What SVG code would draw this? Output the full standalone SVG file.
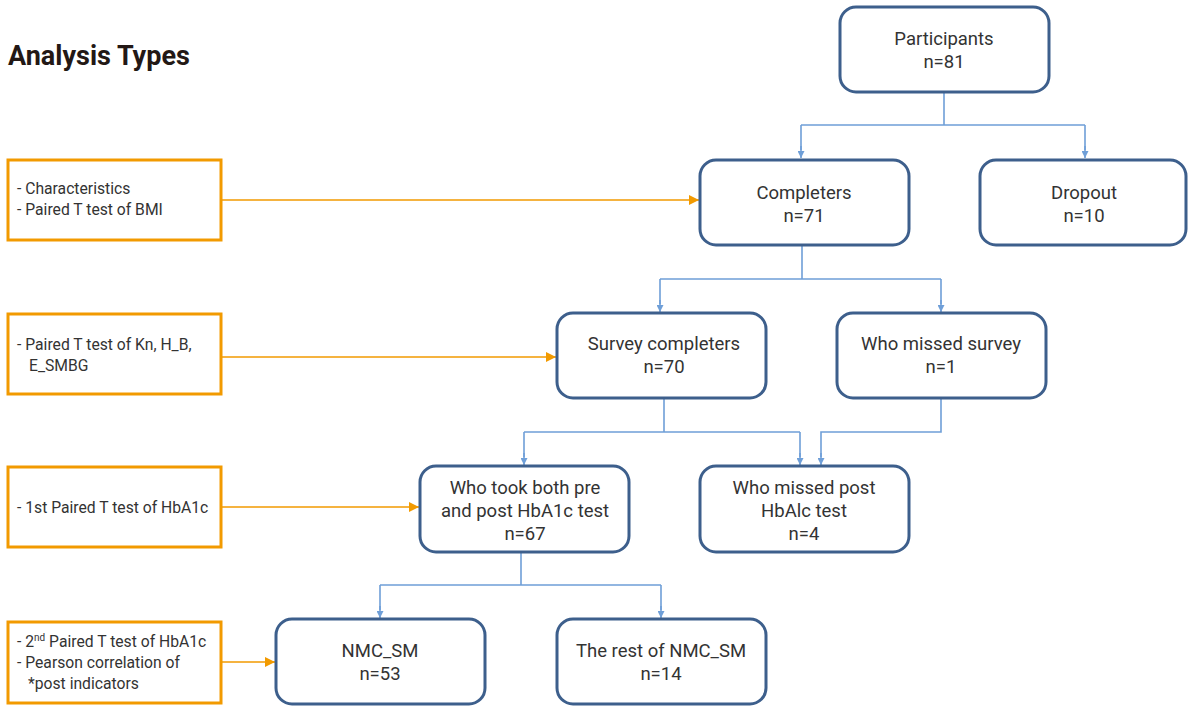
<svg xmlns="http://www.w3.org/2000/svg" width="1188" height="707" viewBox="0 0 1188 707">
<defs>
<style>
.node{fill:#fff;stroke:#3d5f8c;stroke-width:3}
.ana{fill:#fff;stroke:#f29a00;stroke-width:3}
.t{font-family:Roboto,"Liberation Sans",sans-serif;font-size:18.5px;fill:#333;text-anchor:middle}
.a{font-family:Roboto,"Liberation Sans",sans-serif;font-size:15.7px;fill:#333}
.blue{fill:none;stroke:#6f9fd8;stroke-width:1.6}
.org{fill:none;stroke:#f29a00;stroke-width:1.6}
</style>
<marker id="ab" viewBox="0 0 10 10" refX="10" refY="5" markerWidth="7" markerHeight="7" orient="auto" markerUnits="userSpaceOnUse"><path d="M0,0L10,5L0,10z" fill="#6f9fd8"/></marker>
<marker id="ao" viewBox="0 0 10 10" refX="10" refY="5" markerWidth="10" markerHeight="10" orient="auto" markerUnits="userSpaceOnUse"><path d="M0,0L10,5L0,10z" fill="#f29a00"/></marker>
</defs>
<rect width="1188" height="707" fill="#fff"/>
<text x="8" y="65" font-family="Roboto,'Liberation Sans',sans-serif" font-size="27" font-weight="bold" fill="#231815">Analysis Types</text>

<g id="connectors">
<path class="blue" d="M944,92V125M801,125H1085M801,125V150M1085,125V150"/>
<path class="blue" d="M801,146V158" marker-end="url(#ab)"/>
<path class="blue" d="M1085,146V158" marker-end="url(#ab)"/>
<path class="blue" d="M802,245V279M660,279H941M660,279V304M941,279V304"/>
<path class="blue" d="M660,300V312" marker-end="url(#ab)"/>
<path class="blue" d="M941,300V312" marker-end="url(#ab)"/>
<path class="blue" d="M664,399V432M524,432H800M524,432V457M800,432V457"/>
<path class="blue" d="M524,453V465" marker-end="url(#ab)"/>
<path class="blue" d="M800,453V465" marker-end="url(#ab)"/>
<path class="blue" d="M941,399V432H821V457"/>
<path class="blue" d="M821,453V465" marker-end="url(#ab)"/>
<path class="blue" d="M521,552V585M380,585H661M380,585V610M661,585V610"/>
<path class="blue" d="M380,606V618" marker-end="url(#ab)"/>
<path class="blue" d="M661,606V618" marker-end="url(#ab)"/>
<path class="org" d="M222,200H699" marker-end="url(#ao)"/>
<path class="org" d="M222,357H556" marker-end="url(#ao)"/>
<path class="org" d="M222,507H419" marker-end="url(#ao)"/>
<path class="org" d="M222,662H275" marker-end="url(#ao)"/>
</g>

<g id="participants"><rect class="node" x="840" y="7" width="209" height="85" rx="16"/><text class="t" x="944" y="45">Participants</text><text class="t" x="944" y="68">n=81</text></g>
<g id="completers"><rect class="node" x="700" y="160" width="209" height="85" rx="16"/><text class="t" x="804" y="199">Completers</text><text class="t" x="804" y="222">n=71</text></g>
<g id="dropout"><rect class="node" x="980" y="160" width="206" height="85" rx="16"/><text class="t" x="1084" y="199">Dropout</text><text class="t" x="1084" y="222">n=10</text></g>
<g id="survey-completers"><rect class="node" x="557" y="313" width="209" height="85" rx="16"/><text class="t" x="664" y="350">Survey completers</text><text class="t" x="664" y="373">n=70</text></g>
<g id="missed-survey"><rect class="node" x="837" y="313" width="209" height="85" rx="16"/><text class="t" x="941" y="350">Who missed survey</text><text class="t" x="941" y="373">n=1</text></g>
<g id="took-both"><rect class="node" x="420" y="466" width="209" height="86" rx="16"/><text class="t" x="525" y="494">Who took both pre</text><text class="t" x="525" y="517">and post HbA1c test</text><text class="t" x="525" y="540">n=67</text></g>
<g id="missed-post"><rect class="node" x="700" y="466" width="209" height="86" rx="16"/><text class="t" x="804" y="494">Who missed post</text><text class="t" x="804" y="517">HbAlc test</text><text class="t" x="804" y="540">n=4</text></g>
<g id="nmc-sm"><rect class="node" x="276" y="619" width="209" height="85" rx="16"/><text class="t" x="380" y="657">NMC_SM</text><text class="t" x="380" y="680">n=53</text></g>
<g id="rest-nmc-sm"><rect class="node" x="557" y="619" width="209" height="85" rx="16"/><text class="t" x="661" y="657">The rest of NMC_SM</text><text class="t" x="661" y="680">n=14</text></g>

<g id="analysis-1"><rect class="ana" x="8" y="160" width="213" height="80"/><text class="a" x="17" y="194">- Characteristics</text><text class="a" x="17" y="215">- Paired T test of BMI</text></g>
<g id="analysis-2"><rect class="ana" x="8" y="314" width="213" height="80"/><text class="a" x="17" y="350">- Paired T test of Kn, H_B,</text><text class="a" x="29" y="371">E_SMBG</text></g>
<g id="analysis-3"><rect class="ana" x="8" y="467" width="213" height="80"/><text class="a" x="17" y="513">- 1st Paired T test of HbA1c</text></g>
<g id="analysis-4"><rect class="ana" x="8" y="622" width="213" height="81"/><text class="a" x="17" y="647">- 2<tspan font-size="10" dy="-6">nd</tspan><tspan dy="6"> Paired T test of HbA1c</tspan></text><text class="a" x="17" y="668">- Pearson correlation of</text><text class="a" x="28" y="689">*post indicators</text></g>
</svg>
